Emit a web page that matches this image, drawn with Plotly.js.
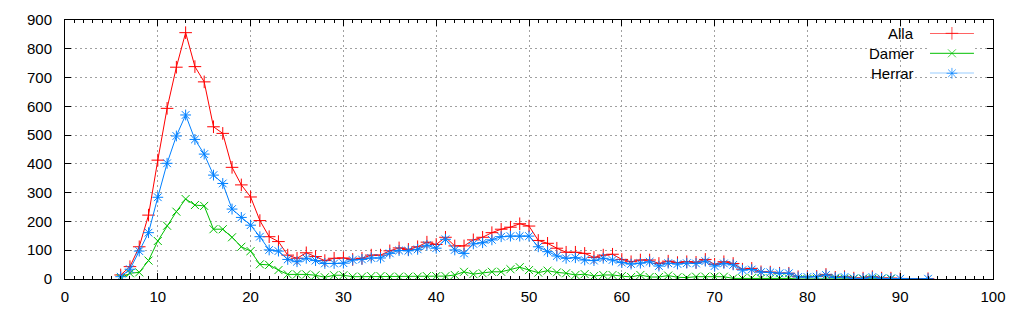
<!DOCTYPE html>
<html>
<head>
<meta charset="utf-8">
<script src="https://cdn.plot.ly/plotly-3.0.1.min.js"></script>
<style>html,body{margin:0;padding:0;background:#fff;}#chart{width:1024px;height:320px;}</style>
</head>
<body>
<div id="chart"></div>
<script>
const age = [6,7,8,9,10,11,12,13,14,15,16,17,18,19,20,21,22,23,24,25,26,27,28,29,30,
  31,32,33,34,35,36,37,38,39,40,41,42,43,44,45,46,47,48,49,50,51,52,53,54,55,56,57,58,59,60,
  61,62,63,64,65,66,67,68,69,70,71,72,73,74,75,76,77,78,79,80,81,82,83,84,85,86,87,88,89,90,93];
const alla = [14,43,112,222,413,593,736,856,738,685,529,506,388,327,285,203,147,130,83,72,91,78,64,72,73,
  68,72,83,83,98,108,103,112,128,120,145,115,115,136,145,161,173,180,192,184,134,124,107,93,93,89,75,83,86,68,
  60,66,66,54,62,57,60,58,68,51,60,54,34,37,25,24,20,20,8,8,9,16,6,8,3,3,8,3,3,1,1];
const damer = [3,20,23,64,132,185,234,278,257,254,173,173,145,112,97,51,49,31,16,16,16,13,6,13,13,
  8,8,10,10,8,8,8,8,10,10,10,14,25,17,20,25,25,34,41,31,22,29,23,20,14,17,10,14,14,10,
  7,14,7,7,12,6,5,8,8,8,8,2,2,3,2,2,2,2,0,0,1,2,1,1,1,1,1,1,1,null,null];
const herrar = [8,34,97,161,284,402,497,570,485,434,361,332,243,214,187,147,101,97,68,60,72,64,54,54,55,
  66,68,73,73,89,99,98,103,117,107,138,101,89,122,126,136,147,149,149,149,112,95,80,72,74,66,64,72,66,57,
  52,55,60,45,55,52,55,54,62,45,54,49,31,33,24,23,20,20,7,7,8,14,5,7,2,2,7,2,2,1,1];
const seriesNames = ["Alla","Damer","Herrar"];
const seriesColors = ["#ff0000","#00c000","#0080ff"];
const seriesSymbols = ["cross-thin-open","x-thin-open","asterisk-open"];
const seriesSizes = [9,8,9];
const seriesData = [alla, damer, herrar];

const FONT = {family:"Liberation Sans, Arial, sans-serif", size:15, color:"#000"};

const traces = [];
seriesData.forEach((vals, i) => {
  traces.push({
    type:"scatter", mode:"lines+markers", name:seriesNames[i],
    x: age, y: vals, connectgaps:false, showlegend:false, cliponaxis:true,
    line:{color:seriesColors[i], width:1},
    marker:{symbol:seriesSymbols[i], size:seriesSizes[i], color:seriesColors[i], line:{color:seriesColors[i], width:1}}
  });
});
// legend samples on an overlay axis
seriesNames.forEach((n, i) => {
  traces.push({
    type:"scatter", mode:"lines+markers", xaxis:"x2", yaxis:"y2", showlegend:false, hoverinfo:"skip",
    x:[0,0.5,1], y:[i,i,i], cliponaxis:false,
    line:{color:seriesColors[i], width:1},
    marker:{symbol:seriesSymbols[i], size:[0,seriesSizes[i],0], color:seriesColors[i], line:{color:seriesColors[i], width:1}}
  });
});

const legendTop = 0.9486, legendBottom = 0.7942;
const annotations = seriesNames.map((n, i) => ({
  xref:"paper", yref:"paper", x:0.9167, y: legendTop - i*(legendTop-legendBottom)/2,
  xanchor:"right", yanchor:"middle", text:n, showarrow:false, font:FONT
}));

const axisCommon = {
  ticks:"inside", ticklen:6, tickwidth:1, tickcolor:"#000",
  showline:true, linecolor:"#000", linewidth:1, mirror:"ticks",
  showgrid:true, gridcolor:"#a0a0a0", gridwidth:1, griddash:"2px,3px",
  zeroline:false, tickfont:FONT, fixedrange:true
};

const layout = {
  width:1024, height:320,
  margin:{l:65, r:31, t:20, b:41, pad:0},
  paper_bgcolor:"#fff", plot_bgcolor:"#fff",
  showlegend:false,
  xaxis: Object.assign({}, axisCommon, {
    range:[0,100], dtick:10, tick0:0, ticklabelstandoff:4,
    minor:{ticks:"inside", ticklen:3, dtick:1, tickcolor:"#000", showgrid:false}
  }),
  yaxis: Object.assign({}, axisCommon, {range:[0,900], dtick:100, tick0:0, ticklabelstandoff:9}),
  xaxis2:{domain:[0.932,0.9795], range:[0,1], visible:false, anchor:"y2"},
  yaxis2:{domain:[legendBottom, legendTop], range:[2,0], visible:false, anchor:"x2"},
  annotations: annotations
};

Plotly.newPlot("chart", traces, layout, {displayModeBar:false, staticPlot:true});
</script>
</body>
</html>
